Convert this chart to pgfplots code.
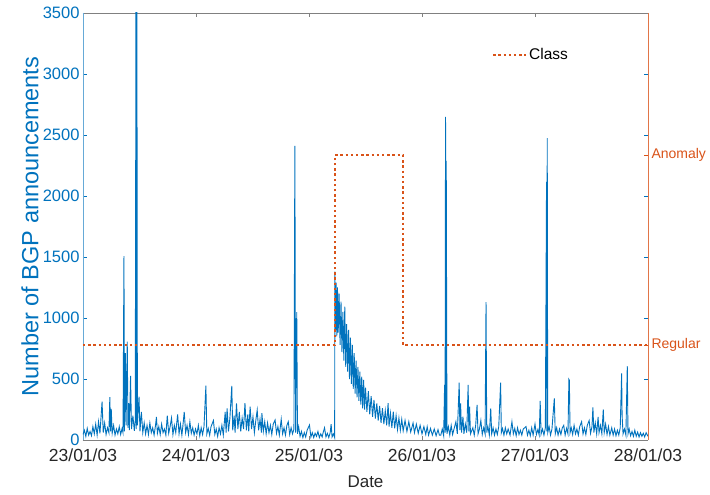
\documentclass[border=0pt]{standalone}
\usepackage{fontspec}
\setmainfont{Liberation Sans}
\usepackage{pgfplots}
\usepackage{pgfplotstable}
\pgfplotsset{compat=1.18}
\definecolor{mblue}{RGB}{0,114,189}
\definecolor{morange}{RGB}{217,83,25}
\definecolor{axgray}{RGB}{38,38,38}

% BGP announcements, x in hours from 23/01/03 00:00
\pgfplotstableread{
h v
0.0 45
0.3 80
0.6 30
0.9 95
1.2 40
1.5 70
1.8 35
2.1 110
2.4 50
2.7 130
3.0 40
3.3 150
3.6 55
4.05 314
4.3 60
4.6 140
4.9 45
5.2 100
5.5 60
5.7 352
5.85 70
6.0 254
6.2 55
6.5 120
6.8 40
7.1 90
7.4 50
7.7 110
8.0 45
8.3 95
8.5 60
8.7 1508
8.8 70
9.0 713
9.15 120
9.4 806
9.55 100
9.7 303
9.85 80
10.1 525
10.3 90
10.6 200
10.9 75
11.1 160
11.25 3600
11.3 90
11.35 3600
11.4 120
11.45 3600
11.55 120
11.9 355
12.1 70
12.4 230
12.7 60
13.0 140
13.3 50
13.6 120
13.9 45
14.2 140
14.5 60
14.8 100
15.1 40
15.4 120
15.6 190
15.8 55
16.1 110
16.4 45
16.7 130
17.0 60
17.3 90
17.6 40
17.9 200
18.2 55
18.5 110
18.8 180
19.1 45
19.4 120
19.7 60
20.1 210
20.4 50
20.7 130
21.0 40
21.2 110
21.5 230
21.8 60
22.1 120
22.4 45
22.7 150
23.0 55
23.3 100
23.6 40
23.9 90
24.2 50
24.5 120
24.8 35
25.1 100
25.4 45
25.7 110
26.1 445
26.3 50
26.6 95
26.9 40
27.2 110
27.7 160
28.0 45
28.3 90
28.6 30
28.9 100
29.2 50
29.5 120
29.8 40
30.2 230
30.4 60
30.6 260
30.9 70
31.2 180
31.6 443
31.8 80
32.1 200
32.3 60
32.6 300
32.9 90
33.2 230
33.5 70
33.8 180
34.1 90
34.4 303
34.7 80
35.0 210
35.2 70
35.5 273
35.8 90
36.1 190
36.4 60
36.7 160
37.0 246
37.3 80
37.6 170
37.9 60
38.0 220
38.3 70
38.6 150
38.9 50
39.2 140
39.5 60
39.8 120
40.1 45
40.4 130
40.8 164
41.1 55
41.4 110
41.7 40
42.1 170
42.4 50
42.7 100
43.0 40
43.3 120
43.6 150
43.9 45
44.2 100
44.5 50
44.8 90
45.0 2410
45.15 60
45.4 1049
45.55 50
45.8 110
46.1 30
46.4 70
46.7 20
47.0 60
47.3 25
47.6 80
48.1 123
48.4 25
48.7 60
49.0 20
49.3 55
49.6 30
49.9 70
50.2 20
50.5 50
50.8 25
51.0 60
51.3 100
51.6 25
51.9 55
52.2 20
52.5 60
52.7 130
52.9 25
53.2 50
53.45 20
53.5 1380
53.6 900
53.75 1290
53.9 850
54.05 1250
54.2 880
54.4 1200
54.6 780
54.8 1134
55.0 720
55.2 1050
55.4 650
55.6 1093
55.8 600
56.0 950
56.2 560
56.4 902
56.6 500
56.8 840
57.0 460
57.2 780
57.4 420
57.6 713
57.8 380
58.0 650
58.2 350
58.4 600
58.6 320
58.8 560
59.0 290
59.2 520
59.4 260
59.6 492
59.8 250
60.0 430
60.3 230
60.6 400
60.9 210
61.2 360
61.5 190
61.8 328
62.1 175
62.4 300
62.7 160
63.0 280
63.3 140
63.6 260
63.9 130
64.2 240
64.5 120
64.8 303
65.0 110
65.3 220
65.6 100
65.9 232
66.2 95
66.5 200
66.8 85
67.1 180
67.4 80
67.7 170
68.0 75
68.4 160
68.8 70
69.2 150
69.6 65
70.1 139
70.4 60
70.8 130
71.2 55
71.6 120
72.0 50
72.4 110
72.8 45
73.1 109
73.4 40
73.8 95
74.2 40
74.6 90
75.0 35
75.4 85
75.7 40
76.0 40
76.3 90
76.6 35
76.8 451
76.9 60
77.0 2648
77.08 80
77.15 2287
77.3 50
77.6 110
77.9 40
78.2 120
78.5 45
78.8 90
79.2 150
79.5 50
79.9 470
80.05 80
80.2 300
80.4 60
80.7 191
80.9 50
81.2 130
81.5 60
81.8 451
81.95 70
82.1 273
82.3 50
82.8 100
83.1 40
83.4 120
83.7 287
83.9 50
84.2 90
84.5 160
84.8 45
85.1 100
85.4 50
85.6 1131
85.75 60
86.0 110
86.3 40
86.6 260
86.8 50
87.1 100
87.4 40
87.7 90
88.0 45
88.3 110
88.7 470
88.85 60
89.1 95
89.4 40
89.7 100
90.0 50
90.3 90
90.7 40
91.1 150
91.4 50
91.7 95
92.0 35
92.3 100
92.6 45
92.9 80
93.2 40
93.5 90
94.1 110
94.4 40
94.7 80
95.0 35
95.3 100
95.6 40
96.0 130
96.3 45
96.6 85
96.9 40
97.1 320
97.3 50
97.6 90
97.9 40
98.2 100
98.45 2115
98.5 70
98.6 2475
98.7 60
99.0 110
99.3 40
99.6 90
100.1 341
100.3 50
100.6 100
100.9 40
101.2 90
101.5 45
101.8 100
102.1 120
102.4 40
102.7 95
103.0 50
103.2 497
103.3 490
103.45 60
103.7 100
104.0 45
104.3 120
104.6 50
104.9 90
105.2 40
105.5 110
105.9 150
106.2 50
106.5 100
106.8 45
107.1 120
107.5 160
107.8 55
108.1 110
108.3 268
108.5 60
108.8 140
109.1 50
109.4 190
109.6 60
109.9 120
110.2 50
110.5 250
110.7 60
111.0 130
111.3 45
111.6 110
111.9 40
112.3 100
112.6 40
112.9 90
113.2 35
113.5 80
113.8 40
114.1 100
114.4 546
114.5 200
114.7 50
115.0 90
115.3 40
115.6 606
115.75 50
116.0 90
116.3 35
116.6 70
116.9 30
117.2 80
117.5 30
117.8 65
118.1 25
118.4 60
118.7 30
119.0 55
119.3 25
119.6 60
120.0 30
}\bgpdata

\begin{document}
\begin{tikzpicture}
\pgfplotsset{/pgf/number format/assume math mode=true}
\begin{axis}[
    name=main,
    scale only axis,
    width=565pt, height=427pt,
    xmin=0, xmax=120, ymin=0, ymax=3500,
    xtick={0,24,...,120},
    xticklabels={23/01/03,24/01/03,25/01/03,26/01/03,27/01/03,28/01/03},
    ytick={0,500,...,3500},
    yticklabel style={/pgf/number format/1000 sep={}, text=mblue,
        font=\fontsize{16.5}{19}\selectfont},
    xticklabel style={text=axgray, font=\fontsize{17.5}{20}\selectfont, yshift=-5pt},
    tick align=inside,
    separate axis lines,
    x axis line style={gray},
    y axis line style={mblue!60},
    xtick style={gray},
    ytick style={mblue},
    xlabel={Date},
    ylabel={Number of BGP announcements},
    xlabel style={text=axgray, font=\fontsize{17}{20}\selectfont,
        at={(axis description cs:0.5,-0.098)}, anchor=center},
    ylabel style={text=mblue, font=\fontsize{23.5}{27}\selectfont,
        at={(axis description cs:-0.094,0.5)}, anchor=center},
]
\addplot[mblue, line width=0.9pt] table[x=h, y=v] {\bgpdata};
\end{axis}

\begin{axis}[
    scale only axis,
    width=565pt, height=427pt,
    xmin=0, xmax=120, ymin=-0.5, ymax=1.75,
    axis x line=none,
    axis y line*=right,
    ytick={0,1},
    yticklabels={Regular,Anomaly},
    y axis line style={morange!80},
    ytick style={morange},
    yticklabel style={text=morange, font=\fontsize{14}{17}\selectfont},
    tick align=inside,
    legend style={draw=none, fill=none, at={(axis description cs:0.793,0.902)},
        anchor=center, font=\fontsize{15.5}{18}\selectfont},
    legend image code/.code={\draw[#1] (0pt,0pt) -- (33pt,0pt);},
]
\addplot[morange, line width=2pt, dash pattern=on 2.4pt off 2.8pt]
    coordinates {(0,0) (53.5,0) (53.5,1) (68,1) (68,0) (120,0)};
\addlegendentry{Class}
\end{axis}

\pgfresetboundingbox
\path[use as bounding box] ([xshift=-83pt,yshift=-55pt]main.south west) rectangle ++(710pt,495pt);
\end{tikzpicture}
\end{document}
